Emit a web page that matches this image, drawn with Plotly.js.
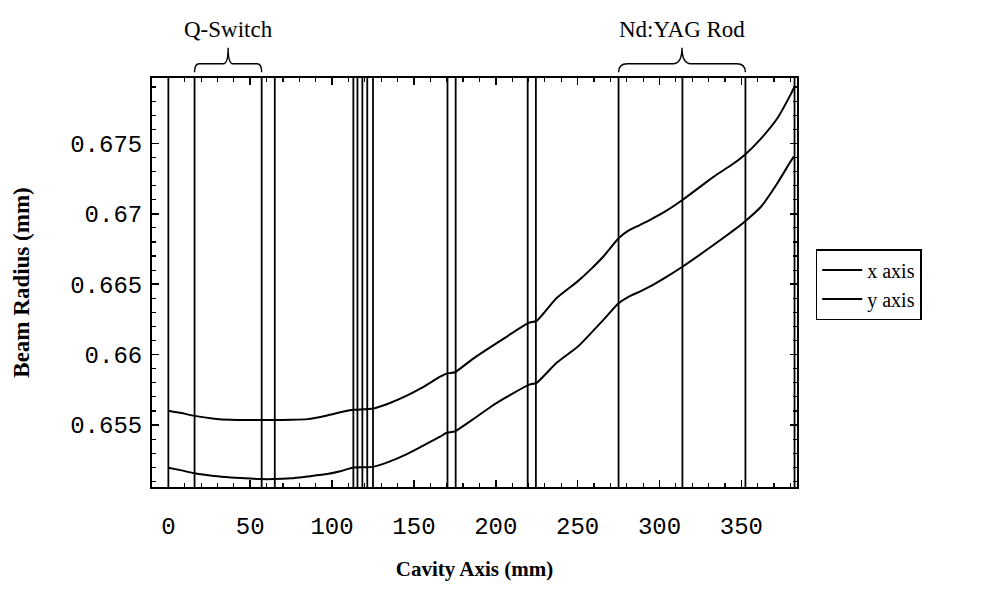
<!DOCTYPE html>
<html>
<head>
<meta charset="utf-8">
<script src="https://cdn.plot.ly/plotly-3.0.1.min.js"></script>
<style>
  html, body { margin: 0; padding: 0; background: #fff; }
  #chart { width: 983px; height: 589px; }
</style>
</head>
<body>
<div id="chart"></div>
<script>
// Beam radius along the laser cavity, for the two transverse axes.
const cavityPos = [0, 8, 16, 28, 38, 50, 57, 64, 75, 85, 97, 105, 113, 119, 125, 135, 145, 155, 166, 170, 175,
  186, 197, 207, 220, 225, 237, 250, 258, 266, 275, 281, 288, 294, 304, 314, 333, 345, 352, 362, 372, 380, 382];

const radiusX = [0.65602, 0.65585, 0.65565, 0.65545, 0.65537, 0.65535, 0.65535, 0.65535, 0.65537, 0.65542,
  0.65568, 0.65590, 0.65608, 0.65612, 0.65617, 0.65655, 0.65705, 0.65765, 0.65843, 0.65865, 0.65875,
  0.65970, 0.66055, 0.66130, 0.66225, 0.66240, 0.66400, 0.66520, 0.66605, 0.66700, 0.66826, 0.66880,
  0.66920, 0.66955, 0.67020, 0.67098, 0.67262, 0.67355, 0.67418, 0.67534, 0.67678, 0.67844, 0.67891];

const radiusY = [0.65197, 0.65178, 0.65157, 0.65138, 0.65128, 0.65120, 0.65116, 0.65116, 0.65122, 0.65135,
  0.65152, 0.65172, 0.65198, 0.65200, 0.65203, 0.65240, 0.65290, 0.65350, 0.65417, 0.65445, 0.65455,
  0.65540, 0.65630, 0.65701, 0.65785, 0.65800, 0.65940, 0.66055, 0.66151, 0.66250, 0.66364, 0.66410,
  0.66447, 0.66482, 0.66550, 0.66624, 0.66778, 0.66880, 0.66944, 0.67050, 0.67217, 0.67370, 0.67406];

// Optical element surfaces along the cavity (mm)
const surfaces = [0, 16, 57, 65, 113, 115.5, 118.5, 121.5, 125, 170.5, 175.5, 219.5, 224.5, 275, 314, 352.5, 382.5];

// Labelled components: [name, start surface, end surface]
const components = [
  ['Q-Switch', 16, 57],
  ['Nd:YAG Rod', 275, 352.5]
];

const seriesNames = ['x axis', 'y axis'];

const xTickVals = [0, 50, 100, 150, 200, 250, 300, 350];
const yTickVals = [0.655, 0.66, 0.665, 0.67, 0.675];
const yTickText = ['0.655', '0.66', '0.665', '0.67', '0.675'];

const traces = seriesNames.map((name, i) => ({
  x: cavityPos, y: i === 0 ? radiusX : radiusY, name: name, type: 'scatter', mode: 'lines',
  line: { color: '#000', width: 2, shape: 'spline', smoothing: 0.5 }
}));

const shapes = surfaces.map(s => ({
  type: 'line', xref: 'x', yref: 'paper', x0: s, x1: s, y0: 0, y1: 1,
  line: { color: '#000', width: 1.8 }, layer: 'above'
}));

// Curly brace over a component, in x data units and paper y units
function bracePath(a, b, yBase, h) {
  const m = (a + b) / 2;
  const dx = (b - a) * 0.07;
  const y1 = yBase + h * 0.35, y2 = yBase + h;
  return `M ${a} ${yBase} Q ${a} ${y1} ${a + dx} ${y1} L ${m - dx} ${y1} Q ${m} ${y1} ${m} ${y2} ` +
         `Q ${m} ${y1} ${m + dx} ${y1} L ${b - dx} ${y1} Q ${b} ${y1} ${b} ${yBase}`;
}

const annotations = [];
components.forEach(([name, a, b]) => {
  shapes.push({
    type: 'path', xref: 'x', yref: 'paper', path: bracePath(a, b, 1.014, 0.06),
    line: { color: '#000', width: 1.4 }
  });
  annotations.push({
    xref: 'x', yref: 'paper', x: (a + b) / 2, y: 1.084, yanchor: 'bottom', showarrow: false,
    text: name, font: { family: 'Liberation Serif', size: 23, color: '#000' }
  });
});

const axisCommon = {
  showline: true, linecolor: '#000', linewidth: 2, mirror: 'allticks',
  ticks: 'inside', ticklen: 7, tickwidth: 1.5, tickcolor: '#000',
  showgrid: false, zeroline: false,
  tickfont: { family: 'Liberation Mono', size: 24, color: '#000' }
};

const layout = {
  width: 983, height: 589,
  margin: { l: 152, r: 186, t: 78, b: 102, autoexpand: false },
  paper_bgcolor: '#fff', plot_bgcolor: '#fff',
  showlegend: true,
  legend: {
    x: 1.029, y: 0.495, xanchor: 'left', yanchor: 'middle',
    bordercolor: '#000', borderwidth: 1.5, bgcolor: '#fff',
    font: { family: 'Liberation Serif', size: 20, color: '#000' },
    tracegroupgap: 0, itemwidth: 40
  },
  xaxis: Object.assign({}, axisCommon, {
    range: [-10, 384], tickvals: xTickVals, ticklabelstandoff: 16,
    minor: { dtick: 10, tick0: 0, ticks: 'inside', ticklen: 4, tickwidth: 1.2, tickcolor: '#000' },
    title: { text: 'Cavity Axis (mm)', standoff: 22,
      font: { family: 'Liberation Serif', size: 21, color: '#000', weight: 'bold' } }
  }),
  yaxis: Object.assign({}, axisCommon, {
    range: [0.6506, 0.67964], tickvals: yTickVals, ticktext: yTickText, ticklabelstandoff: 3,
    minor: { dtick: 0.001, tick0: 0.655, ticks: 'inside', ticklen: 4, tickwidth: 1.2, tickcolor: '#000' },
    title: { text: 'Beam Radius (mm)', standoff: 34,
      font: { family: 'Liberation Serif', size: 23, color: '#000', weight: 'bold' } }
  }),
  shapes: shapes,
  annotations: annotations
};

Plotly.newPlot('chart', traces, layout, { staticPlot: true, displayModeBar: false });
</script>
</body>
</html>
